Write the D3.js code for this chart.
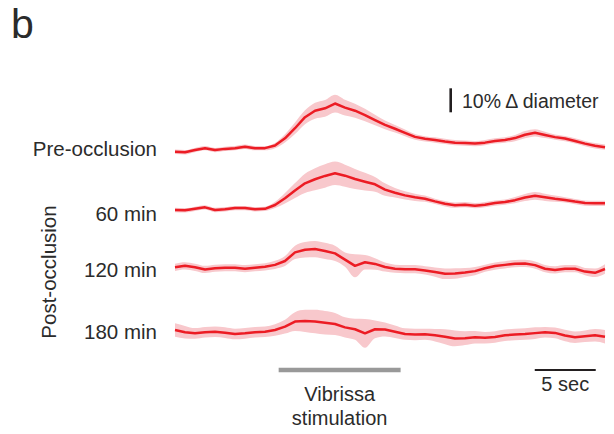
<!DOCTYPE html>
<html>
<head>
<meta charset="utf-8">
<script src="https://cdn.jsdelivr.net/npm/d3@7"></script>
<style>
  body { margin: 0; background: #fff; }
  svg text { font-family: Arial, "Liberation Sans", Helvetica, sans-serif; fill: #2b2b2b; }
</style>
</head>
<body>
<svg id="chart" width="614" height="434"></svg>
<script>
// Mean % change in vessel diameter, sampled every 0.82 s
const dt = 0.82;
const rowLabels = ['Pre-occlusion', '60 min', '120 min', '180 min'];

const preMean = [0.1, -0.1, 0.8, 1.6, 0.8, 1.3, 1.6, 2.2, 1.6, 1.6,
  2.7, 5.7, 9.9, 14.5, 17.2, 18.2, 20.2, 18.5, 17.2, 15.4, 13.3, 11.3,
  9.7, 8.0, 6.3, 5.5, 5.0, 4.4, 3.9, 3.7, 3.5, 3.9, 4.6, 5.0,
  5.8, 7.2, 8.0, 7.1, 6.2, 5.6, 4.6, 3.5, 2.6, 2.0];
const preSem = [0.9, 0.9, 0.9, 0.9, 0.9, 0.9, 0.9, 0.9, 0.9, 0.9,
  1.1, 1.7, 2.4, 2.9, 3.3, 3.5, 3.7, 3.3, 2.9, 2.6, 2.2, 1.8,
  1.6, 1.4, 1.2, 1.1, 1.1, 1.1, 1.1, 1.1, 1.1, 1.1, 1.1, 1.1,
  1.3, 1.5, 1.5, 1.3, 1.1, 1.1, 1.1, 1.1, 1.1, 1.1];

const min60Mean = [0.0, -0.1, 0.5, 1.1, 0.0, 0.3, 0.8, 0.8, 0.3, 0.5,
  2.1, 4.9, 8.1, 11.1, 12.8, 14.2, 15.3, 14.3, 12.9, 11.8, 10.7, 8.5,
  7.2, 6.1, 5.3, 4.7, 3.6, 2.6, 2.0, 2.2, 1.8, 2.2, 2.9, 3.3,
  4.1, 5.2, 5.9, 5.3, 4.7, 4.2, 3.5, 2.9, 2.8, 2.8];
const min60Sem = [0.9, 0.9, 0.9, 0.9, 0.9, 0.9, 0.9, 0.9, 0.9, 0.9,
  1.3, 2.2, 3.1, 4.0, 4.6, 4.9, 4.9, 4.6, 4.2, 3.7, 3.1, 2.6,
  2.0, 1.7, 1.5, 1.3, 1.1, 1.1, 1.1, 1.1, 1.1, 1.1, 1.1, 1.1,
  1.3, 1.5, 1.6, 1.5, 1.3, 1.1, 1.1, 1.1, 1.1, 1.1];

const min120Mean = [0.3, 0.9, 0.3, -0.6, -0.1, 0.1, 0.1, -0.3, 0.1, 0.5,
  1.3, 2.9, 6.5, 7.6, 7.9, 7.1, 6.1, 3.5, 0.9, 2.4, 1.7, 0.4,
  -0.3, -0.5, -0.5, -1.0, -1.7, -2.4, -2.3, -1.9, -1.3, -0.1, 0.8, 1.3,
  1.8, 1.9, 1.2, -0.3, -0.8, -0.3, -0.3, -1.5, -2.0, -0.4];
const min120Sem = [1.5, 1.5, 1.5, 1.5, 1.5, 1.5, 1.5, 1.5, 1.5, 1.5,
  1.7, 2.1, 2.8, 3.2, 3.4, 3.4, 3.2, 3.0, 4.8, 3.0, 2.4, 1.9,
  1.7, 1.7, 1.7, 1.7, 1.9, 2.2, 2.2, 1.9, 1.7, 1.5, 1.5, 1.5,
  1.5, 1.5, 1.5, 1.5, 1.5, 1.5, 1.5, 1.5, 1.8, 2.0];

const min180Mean = [0.0, -0.9, -1.4, -0.9, -0.7, -1.1, -1.7, -1.4, -0.9, -0.7,
  0.0, 1.4, 3.5, 3.8, 3.5, 3.0, 2.5, 1.1, 0.3, -1.4, 0.3, 0.2,
  -0.7, -1.7, -1.9, -1.8, -2.2, -2.8, -3.5, -3.4, -3.0, -3.2, -2.9, -2.2,
  -1.9, -1.7, -1.3, -0.9, -1.2, -2.3, -3.0, -2.6, -2.2, -2.8];
const min180Sem = [2.8, 2.6, 2.2, 2.2, 2.2, 2.2, 2.2, 2.2, 2.2, 2.2,
  2.4, 2.9, 3.9, 4.6, 4.9, 4.9, 4.6, 4.2, 4.4, 6.0, 3.7, 2.9,
  2.6, 2.4, 2.4, 2.3, 2.6, 3.1, 3.3, 2.9, 2.6, 2.4, 2.4, 2.4,
  2.4, 2.4, 2.4, 2.2, 2.2, 2.4, 2.4, 2.4, 2.6, 2.8];

const stimWindow = [8.5, 18.5];   // seconds
const timeBar = [29.5, 34.5];     // 5 sec
const diamBar = 10;               // 10 % diameter

const series = [
  { label: rowLabels[0], mean: preMean, sem: preSem, base: 152, labelY: 156 },
  { label: rowLabels[1], mean: min60Mean, sem: min60Sem, base: 210, labelY: 221 },
  { label: rowLabels[2], mean: min120Mean, sem: min120Sem, base: 268, labelY: 277 },
  { label: rowLabels[3], mean: min180Mean, sem: min180Sem, base: 330, labelY: 339 }
];

const svg = d3.select('#chart');

// time scale: 12.2 px per second
const xScale = d3.scaleLinear()
  .domain([0, (preMean.length - 1) * dt])
  .range([175, 605]);

// 10% diameter = 24 px
const pxPerPct = 2.4;

series.forEach(s => {
  const yScale = d3.scaleLinear()
    .domain([0, 10])
    .range([s.base, s.base - 10 * pxPerPct]);

  const pts = s.mean.map((m, i) => ({ t: i * dt, m: m, e: s.sem[i] }));

  const area = d3.area()
    .x(d => xScale(d.t))
    .y0(d => yScale(d.m - d.e))
    .y1(d => yScale(d.m + d.e))
    .curve(d3.curveMonotoneX);

  const line = d3.line()
    .x(d => xScale(d.t))
    .y(d => yScale(d.m))
    .curve(d3.curveLinear);

  svg.append('path')
    .datum(pts)
    .attr('d', area)
    .attr('fill', '#f8c8cc');

  svg.append('path')
    .datum(pts)
    .attr('d', line)
    .attr('fill', 'none')
    .attr('stroke', '#ec1c24')
    .attr('stroke-width', 2.5)
    .attr('stroke-linejoin', 'round');

  svg.append('text')
    .attr('x', 157)
    .attr('y', s.labelY)
    .attr('text-anchor', 'end')
    .style('font-size', '20.5px')
    .text(s.label);
});

// panel letter
svg.append('text')
  .attr('x', 11)
  .attr('y', 38)
  .style('font-size', '41px')
  .text('b');

// post-occlusion group label
svg.append('text')
  .attr('transform', 'translate(56, 272) rotate(-90)')
  .attr('text-anchor', 'middle')
  .style('font-size', '20.5px')
  .text('Post-occlusion');

// vertical scale bar
const barScale = d3.scaleLinear().domain([0, 10]).range([112.3, 112.3 - 10 * pxPerPct]);
svg.append('line')
  .attr('x1', 450.7).attr('x2', 450.7)
  .attr('y1', barScale(0)).attr('y2', barScale(diamBar))
  .attr('stroke', '#231f20')
  .attr('stroke-width', 2.6);

svg.append('text')
  .attr('x', 462)
  .attr('y', 108)
  .style('font-size', '19.5px')
  .text('10% \u0394 diameter');

// stimulation bar
svg.append('line')
  .attr('x1', xScale(stimWindow[0])).attr('x2', xScale(stimWindow[1]))
  .attr('y1', 370).attr('y2', 370)
  .attr('stroke', '#999999')
  .attr('stroke-width', 4.5);

const stimMid = xScale((stimWindow[0] + stimWindow[1]) / 2);
svg.append('text')
  .attr('x', stimMid)
  .attr('y', 401)
  .attr('text-anchor', 'middle')
  .style('font-size', '20px')
  .text('Vibrissa');
svg.append('text')
  .attr('x', stimMid)
  .attr('y', 425)
  .attr('text-anchor', 'middle')
  .style('font-size', '20px')
  .text('stimulation');

// time scale bar
svg.append('line')
  .attr('x1', xScale(timeBar[0])).attr('x2', xScale(timeBar[1]))
  .attr('y1', 370).attr('y2', 370)
  .attr('stroke', '#231f20')
  .attr('stroke-width', 2);

svg.append('text')
  .attr('x', xScale((timeBar[0] + timeBar[1]) / 2))
  .attr('y', 391)
  .attr('text-anchor', 'middle')
  .style('font-size', '20px')
  .text('5 sec');
</script>
</body>
</html>
